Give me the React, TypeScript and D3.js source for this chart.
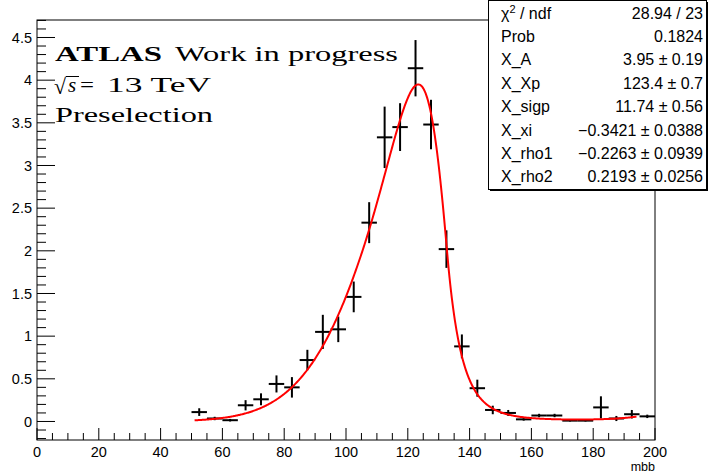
import React from 'react';
import * as d3 from 'd3';

const binCenters = [52.5, 57.5, 62.5, 67.5, 72.5, 77.5, 82.5, 87.5, 92.5, 97.5, 102.5, 107.5, 112.5, 117.5, 122.5, 127.5, 132.5, 137.5, 142.5, 147.5, 152.5, 157.5, 162.5, 167.5, 172.5, 177.5, 182.5, 187.5, 192.5, 197.5];
const binValues = [0.11, 0.035, 0.015, 0.19, 0.26, 0.44, 0.4, 0.72, 1.05, 1.08, 1.46, 2.33, 3.33, 3.45, 4.14, 3.48, 2.02, 0.88, 0.39, 0.135, 0.1, 0.025, 0.07, 0.07, 0.01, 0.01, 0.165, 0.035, 0.085, 0.06];
const binErrors = [0.045, 0.02, 0.015, 0.06, 0.07, 0.1, 0.12, 0.12, 0.2, 0.15, 0.18, 0.24, 0.36, 0.28, 0.33, 0.29, 0.22, 0.14, 0.1, 0.05, 0.035, 0.015, 0.02, 0.02, 0.01, 0.01, 0.13, 0.03, 0.05, 0.02];
const binWidth = 5;

const xMajorTicks = [0, 20, 40, 60, 80, 100, 120, 140, 160, 180, 200];
const yMajorTicks = [0, 0.5, 1, 1.5, 2, 2.5, 3, 3.5, 4, 4.5];
const yTickLabels = ['0', '0.5', '1', '1.5', '2', '2.5', '3', '3.5', '4', '4.5'];

// Bukin fit parameters (as shown in the stats box)
const fitA = 3.95;
const fitXp = 123.4;
const fitSigp = 11.74;
const fitXi = -0.3421;
const fitRho1 = -0.2263;
const fitRho2 = 0.2193;
const fitRange = [51, 194];

const statsLabels = ['χ2 / ndf', 'Prob', 'X_A', 'X_Xp', 'X_sigp', 'X_xi', 'X_rho1', 'X_rho2'];
const statsValues = ['28.94 / 23', '0.1824', '3.95 ± 0.19', '123.4 ± 0.7', '11.74 ± 0.56', '−0.3421 ± 0.0388', '−0.2263 ± 0.0939', '0.2193 ± 0.0256'];

function bukin(x: number): number {
  const consts = 2 * Math.sqrt(2 * Math.log(2));
  const hp = fitSigp * consts;
  const r3 = Math.log(2);
  const r4 = Math.sqrt(fitXi * fitXi + 1);
  const r1 = fitXi / r4;
  const r5 = Math.abs(fitXi) > Math.exp(-6) ? fitXi / Math.log(r4 + fitXi) : 1;
  const x1 = fitXp + (hp / 2) * (r1 - 1);
  const x2 = fitXp + (hp / 2) * (r1 + 1);
  let r2: number;
  if (x < x1) {
    r2 = fitRho1 * Math.pow((x - x1) / (fitXp - x1), 2) - r3 + 4 * r3 * (x - x1) / hp * r5 * r4 / Math.pow(r4 - fitXi, 2);
  } else if (x < x2) {
    if (Math.abs(fitXi) > Math.exp(-6)) {
      r2 = Math.log(1 + 4 * fitXi * r4 * (x - fitXp) / hp) / Math.log(1 + 2 * fitXi * (fitXi - r4));
      r2 = -r3 * r2 * r2;
    } else {
      r2 = -4 * r3 * Math.pow((x - fitXp) / hp, 2);
    }
  } else {
    r2 = fitRho2 * Math.pow((x - x2) / (fitXp - x2), 2) - r3 - 4 * r3 * (x - x2) / hp * r5 * r4 / Math.pow(r4 + fitXi, 2);
  }
  return Math.abs(r2) > 100 ? 0 : fitA * Math.exp(r2);
}

export default function App() {
  const L = 37, R = 655, T = 20, B = 440;
  const x = d3.scaleLinear().domain([0, 200]).range([L, R]);
  const y = d3.scaleLinear().domain([-0.217, 4.705]).range([B, T]);

  const xMinor = d3.range(0, 200.001, 5).filter((v) => !xMajorTicks.includes(v));
  const yMinor = d3.range(-0.2, 4.7001, 0.1).map((v) => Math.round(v * 10) / 10).filter((v) => Math.abs(v * 2 - Math.round(v * 2)) > 1e-6);

  const curvePts: [number, number][] = [];
  for (let v = fitRange[0]; v <= fitRange[1] + 1e-9; v += 0.25) curvePts.push([v, bukin(v)]);
  const line = d3.line<[number, number]>().x((d) => x(d[0])).y((d) => y(d[1]));

  const sansFont = "'Liberation Sans', Arial, Helvetica, sans-serif";
  const serifFont = "'Liberation Serif', 'Times New Roman', serif";

  const statsLeft = 488.5, statsTop = 0.5, statsW = 218, statsH = 189;
  const rowY = (i: number) => 18.5 + i * 23.4;

  return (
    <svg width={710} height={474} style={{ position: 'absolute', left: 0, top: 0, background: '#fff' }}>
      <rect x={0} y={0} width={710} height={474} fill="#fff" />
      {/* frame */}
      <rect x={L} y={T} width={R - L} height={B - T} fill="none" stroke="#000" strokeWidth={1} />

      {/* y ticks */}
      {yMajorTicks.map((v, i) => (
        <g key={'ym' + i}>
          <line x1={L} x2={L + 18} y1={y(v)} y2={y(v)} stroke="#000" strokeWidth={1} />
          <text x={32} y={y(v)} dy="0.35em" textAnchor="end" fontFamily={sansFont} fontSize={14.5} fill="#000">{yTickLabels[i]}</text>
        </g>
      ))}
      {yMinor.map((v, i) => (
        <line key={'yn' + i} x1={L} x2={L + 9} y1={y(v)} y2={y(v)} stroke="#000" strokeWidth={1} />
      ))}

      {/* x ticks */}
      {xMajorTicks.map((v, i) => (
        <g key={'xm' + i}>
          <line x1={x(v)} x2={x(v)} y1={B} y2={B - 12} stroke="#000" strokeWidth={1} />
          <text x={x(v)} y={457} textAnchor="middle" fontFamily={sansFont} fontSize={14.5} fill="#000">{v}</text>
        </g>
      ))}
      {xMinor.map((v, i) => (
        <line key={'xn' + i} x1={x(v)} x2={x(v)} y1={B} y2={B - 7} stroke="#000" strokeWidth={1} />
      ))}
      <text x={655} y={471} textAnchor="end" fontFamily={sansFont} fontSize={12.5} fill="#000">mbb</text>

      {/* data points */}
      {binCenters.map((c, i) => (
        <g key={'p' + i} stroke="#000" strokeWidth={2}>
          <line x1={x(c - binWidth / 2)} x2={x(c + binWidth / 2)} y1={y(binValues[i])} y2={y(binValues[i])} />
          <line x1={x(c)} x2={x(c)} y1={y(binValues[i] - binErrors[i])} y2={y(binValues[i] + binErrors[i])} />
        </g>
      ))}

      {/* fit curve */}
      <path d={line(curvePts) || ''} fill="none" stroke="#ff0000" strokeWidth={2} />

      {/* ATLAS label */}
      <text x={55} y={61} fontFamily={serifFont} fontSize={21} fontWeight="bold" fill="#000" textLength={107} lengthAdjust="spacingAndGlyphs">ATLAS</text>
      <text x={175} y={61} fontFamily={serifFont} fontSize={21} fill="#000" textLength={223} lengthAdjust="spacingAndGlyphs">Work in progress</text>
      <text x={54} y={94} fontFamily={serifFont} fontSize={22} fill="#000">√</text>
      <line x1={66} x2={79} y1={76.5} y2={76.5} stroke="#000" strokeWidth={1} />
      <text x={68} y={92} fontFamily={serifFont} fontSize={21} fontStyle="italic" fill="#000">s</text>
      <text x={80} y={92} fontFamily={serifFont} fontSize={21} fill="#000" textLength={14} lengthAdjust="spacingAndGlyphs">=</text>
      <text x={107} y={92} fontFamily={serifFont} fontSize={21} fill="#000" textLength={104} lengthAdjust="spacingAndGlyphs">13 TeV</text>
      <text x={55} y={122} fontFamily={serifFont} fontSize={21} fill="#000" textLength={158} lengthAdjust="spacingAndGlyphs">Preselection</text>

      {/* stats box */}
      <rect x={statsLeft + 1.5} y={statsTop + 1.5} width={statsW} height={statsH} fill="#000" />
      <rect x={statsLeft} y={statsTop} width={statsW} height={statsH} fill="#fff" stroke="#000" strokeWidth={1} />
      {statsLabels.map((lab, i) => (
        <text key={'sl' + i} x={501} y={rowY(i)} fontFamily={sansFont} fontSize={16} fill="#000">
          {i === 0 ? (
            <>
              <tspan>χ</tspan>
              <tspan fontSize={11} dy={-6}>2</tspan>
              <tspan dy={6}> / ndf</tspan>
            </>
          ) : lab}
        </text>
      ))}
      {statsValues.map((val, i) => (
        <text key={'sv' + i} x={703} y={rowY(i)} textAnchor="end" fontFamily={sansFont} fontSize={16} fill="#000">{val}</text>
      ))}
    </svg>
  );
}
